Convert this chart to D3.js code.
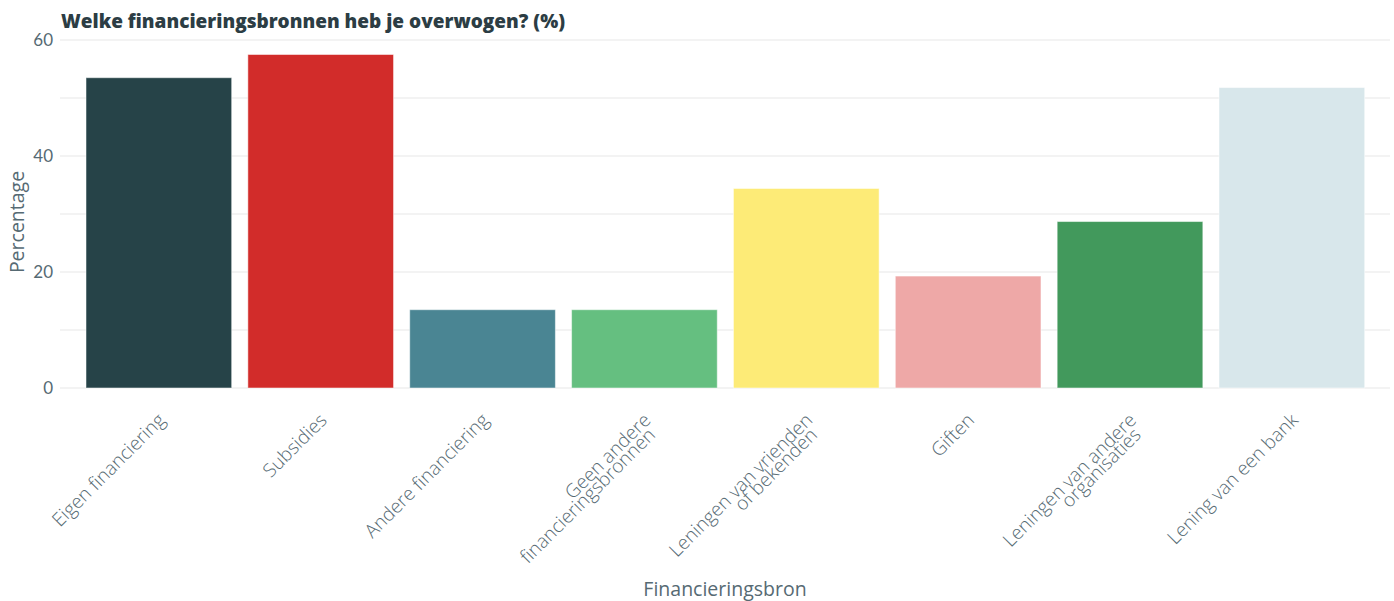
<!DOCTYPE html>
<html>
<head>
<meta charset="utf-8">
<script src="https://cdn.jsdelivr.net/npm/d3@7"></script>
<style>
  html, body { margin: 0; padding: 0; background: #fff; }
  svg { display: block; font-family: "Open Sans", Lato, sans-serif; }
</style>
</head>
<body>
<svg id="chart" width="1394" height="601"></svg>
<script>
// Financing sources considered, percentage of respondents
const categories = [
  ["Eigen financiering"],
  ["Subsidies"],
  ["Andere financiering"],
  ["Geen andere", "financieringsbronnen"],
  ["Leningen van vrienden", "of bekenden"],
  ["Giften"],
  ["Leningen van andere", "organisaties"],
  ["Lening van een bank"]
];
const values = [53.5, 57.5, 13.5, 13.5, 34.4, 19.3, 28.7, 51.8];
const colors = ["#264348", "#d22c2a", "#4a8593", "#65bf80", "#fdeb77", "#eea8a7", "#42995c", "#d8e7eb"];
const yTicks = [0, 20, 40, 60];
const yMinor = [10, 30, 50];

const svg = d3.select("#chart");
const plot = { left: 60, right: 1390, top: 40, bottom: 388 };
const textGrey = "#566a73";

const x = d3.scaleBand()
  .domain(d3.range(categories.length))
  .range([86, 1364.7])
  .paddingInner(0.1)
  .paddingOuter(0);

const y = d3.scaleLinear().domain([0, 60]).range([plot.bottom, plot.top]);

// grid lines
svg.append("g").selectAll("line")
  .data(yMinor.concat(yTicks))
  .join("line")
  .attr("x1", plot.left).attr("x2", plot.right)
  .attr("y1", d => y(d)).attr("y2", d => y(d))
  .attr("stroke", "#efefef")
  .attr("stroke-width", 1.5);

// bars
svg.append("g").selectAll("rect")
  .data(values)
  .join("rect")
  .attr("x", (d, i) => x(i))
  .attr("width", x.bandwidth())
  .attr("y", d => y(d))
  .attr("height", d => y(0) - y(d))
  .attr("fill", (d, i) => colors[i])
  .attr("stroke", "rgba(255,255,255,0.5)")
  .attr("stroke-width", 1);

// y axis
const yAxis = d3.axisLeft(y).tickValues(yTicks).tickSize(0).tickPadding(0);
const gy = svg.append("g").attr("transform", `translate(${plot.left - 7},0)`).call(yAxis);
gy.select(".domain").remove();
gy.selectAll("text")
  .attr("fill", textGrey)
  .style("font-size", "17px")
  .style("font-family", "Lato, sans-serif")
  .attr("dy", "0.35em");

// x axis labels, rotated
const gx = svg.append("g");
categories.forEach((lines, i) => {
  const cx = x(i) + x.bandwidth() / 2;
  const t = gx.append("text")
    .attr("transform", `translate(${cx + 2},${416}) rotate(-45)`)
    .attr("text-anchor", "end")
    .attr("fill", textGrey)
    .style("font-size", "19px")
    .style("font-weight", 300);
  lines.forEach((ln, j) => {
    t.append("tspan")
      .attr("x", j === 0 ? 0 : -7)
      .attr("dy", j === 0 ? "0.4em" : "0.72em")
      .text(ln);
  });
});

// axis titles
svg.append("text")
  .attr("x", (plot.left + plot.right) / 2)
  .attr("y", 596)
  .attr("text-anchor", "middle")
  .attr("fill", textGrey)
  .style("font-size", "19.5px")
  .text("Financieringsbron");

svg.append("text")
  .attr("transform", `translate(24,${(plot.top + plot.bottom) / 2 + 8}) rotate(-90)`)
  .attr("text-anchor", "middle")
  .attr("fill", textGrey)
  .style("font-size", "19.5px")
  .text("Percentage");

// title
svg.append("text")
  .attr("x", 61)
  .attr("y", 28)
  .attr("fill", "#2c3d44")
  .style("font-size", "19px")
  .style("font-weight", 800)
  .text("Welke financieringsbronnen heb je overwogen? (%)");
</script>
</body>
</html>
